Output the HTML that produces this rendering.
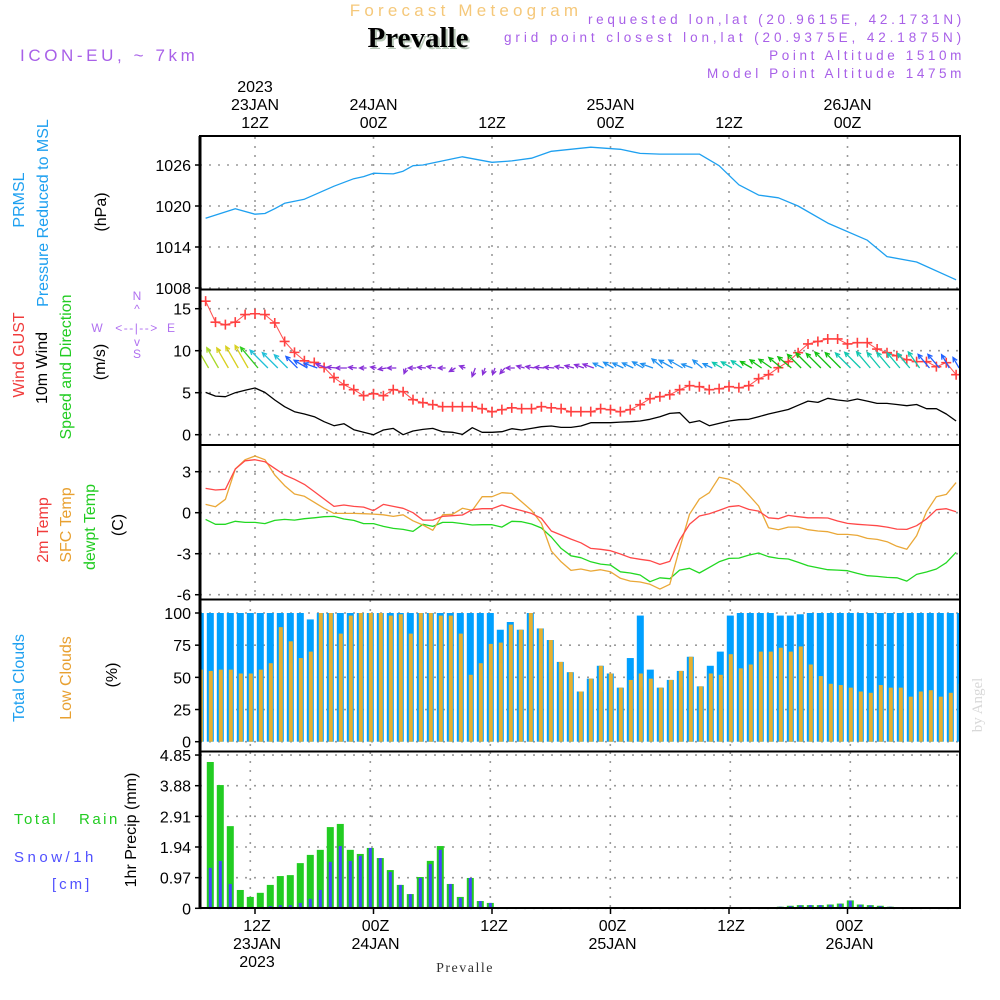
<!DOCTYPE html>
<html><head><meta charset="utf-8"><title>Forecast Meteogram - Prevalle</title>
<style>
html,body{margin:0;padding:0;background:#fff;}
svg{display:block;font-family:"Liberation Sans",sans-serif;}
.n{font-family:"Liberation Sans Narrow","Liberation Sans",sans-serif;}
</style></head>
<body>
<svg id="chart" xmlns="http://www.w3.org/2000/svg" width="1000" height="1000" viewBox="0 0 1000 1000">
<rect x="0" y="0" width="1000" height="1000" fill="#fff"/>
<text x="466" y="16" text-anchor="middle" font-size="17" fill="#f5c87a" letter-spacing="4.2">Forecast Meteogram</text>
<text x="420" y="49" text-anchor="middle" font-size="29" font-weight="bold" fill="#b8c8b8" font-family="Liberation Serif,serif">Prevalle</text>
<text x="418" y="47" text-anchor="middle" font-size="29" font-weight="bold" fill="#000" font-family="Liberation Serif,serif">Prevalle</text>
<text x="20" y="61" font-size="17" fill="#a860e8" letter-spacing="3.6">ICON-EU, ~ 7km</text>
<text x="965" y="24" text-anchor="end" font-size="13.5" fill="#a860e8" letter-spacing="3.7">requested lon,lat (20.9615E, 42.1731N)</text>
<text x="965" y="42" text-anchor="end" font-size="13.5" fill="#a860e8" letter-spacing="3.9">grid point closest lon,lat (20.9375E, 42.1875N)</text>
<text x="965" y="60" text-anchor="end" font-size="13.5" fill="#a860e8" letter-spacing="3.6">Point Altitude 1510m</text>
<text x="965" y="78" text-anchor="end" font-size="13.5" fill="#a860e8" letter-spacing="3.6">Model Point Altitude 1475m</text>

<g font-size="16" class="n">
<text transform="translate(24,200) rotate(-90)" text-anchor="middle" fill="#1ea0f0">PRMSL</text>
<text transform="translate(48,213) rotate(-90)" text-anchor="middle" fill="#1ea0f0">Pressure Reduced to MSL</text>
<text transform="translate(106,212) rotate(-90)" text-anchor="middle" fill="#000">(hPa)</text>
<text transform="translate(24,355) rotate(-90)" text-anchor="middle" fill="#f03c3c">Wind GUST</text>
<text transform="translate(47,368) rotate(-90)" text-anchor="middle" fill="#000">10m Wind</text>
<text transform="translate(71,367) rotate(-90)" text-anchor="middle" fill="#22cc22">Speed and Direction</text>
<text transform="translate(105,362) rotate(-90)" text-anchor="middle" fill="#000">(m/s)</text>
<text transform="translate(48,530) rotate(-90)" text-anchor="middle" fill="#f03c3c">2m Temp</text>
<text transform="translate(71,525) rotate(-90)" text-anchor="middle" fill="#e8a030">SFC Temp</text>
<text transform="translate(95,527) rotate(-90)" text-anchor="middle" fill="#22cc22">dewpt Temp</text>
<text transform="translate(123,525) rotate(-90)" text-anchor="middle" fill="#000">(C)</text>
<text transform="translate(24,678) rotate(-90)" text-anchor="middle" fill="#1ea0f0">Total Clouds</text>
<text transform="translate(71,678) rotate(-90)" text-anchor="middle" fill="#e8a030">Low Clouds</text>
<text transform="translate(117,675) rotate(-90)" text-anchor="middle" fill="#000">(%)</text>
<text transform="translate(136,830) rotate(-90)" text-anchor="middle" fill="#000">1hr Precip (mm)</text>
</g>
<text x="14" y="824" font-size="15" fill="#22cc22" letter-spacing="2.5">Total</text>
<text x="79" y="824" font-size="15" fill="#22cc22" letter-spacing="2.5">Rain</text>
<text x="14" y="862" font-size="15" fill="#5050ff" letter-spacing="3.5">Snow/1h</text>
<text x="52" y="889" font-size="15" fill="#5050ff" letter-spacing="3">[cm]</text>
<g fill="#b070f0" font-size="12" text-anchor="middle">
<text x="137" y="300">N</text>
<text x="137" y="313">^</text>
<text x="97" y="332">W</text>
<text x="137" y="332" letter-spacing="1.5">&lt;--|--&gt;</text>
<text x="171" y="332">E</text>
<text x="137" y="346">v</text>
<text x="137" y="358">S</text>
</g>
<text transform="translate(982,705) rotate(-90)" text-anchor="middle" font-size="15" fill="#d8d8d8" font-family="Liberation Serif,serif">by Angel</text>

<g id="grid"></g>
<g id="marks"></g>
<g id="frame"></g>
<g id="labels" font-size="16" class="n"></g>
</svg>
<script>
// ---- data ----
var lineHours = [];
for (var hh = 7; hh <= 83; hh++) lineHours.push(hh);
var pressureHours = [7,10,12,13,14,15,17,20,22,23,24,26,27,28,29,31,33,36,38,40,42,46,49,51,53,57,59,61,63,65,67,70,74,76,79,83];
var pressureVals = [1018.2,1019.6,1018.8,1018.9,1019.6,1020.4,1021.0,1022.9,1024.0,1024.3,1024.8,1024.7,1025.1,1025.9,1026.0,1026.6,1027.2,1026.4,1026.6,1027.0,1028.0,1028.6,1028.3,1027.7,1027.6,1027.6,1025.9,1023.1,1021.6,1021.2,1020.0,1017.5,1015.0,1012.6,1011.8,1009.2];
var gustVals = [15.9,13.4,13.1,13.4,14.3,14.4,14.3,13.3,11.1,9.8,8.8,8.6,8.0,6.8,5.95,5.36,4.64,4.88,4.64,5.36,5.12,4.17,3.81,3.57,3.33,3.33,3.33,3.33,3.1,2.74,2.98,3.2,3.1,3.1,3.33,3.2,3.1,2.74,2.74,
 2.74,3.1,2.98,2.74,2.98,3.57,4.29,4.52,4.76,5.36,5.83,5.71,5.36,5.48,5.71,5.6,5.83,6.67,7.14,7.98,8.7,9.76,10.8,11.1,11.4,11.4,10.8,10.95,10.95,10.2,9.76,9.4,8.93,8.7,8.7,8.1,8.57,7.14];
var windVals = [5.04,4.6,4.52,5.0,5.3,5.56,5.04,4.13,3.33,2.74,2.46,2.14,1.55,1.07,1.31,0.6,0.28,0,0.56,0.75,0,0.44,0.63,0.75,0.36,0.28,0.04,0.83,0.28,0.28,0.36,0.71,0.56,0.75,0.95,1.03,0.87,0.87,1.03,
 1.43,1.43,1.43,1.5,1.55,1.63,1.83,2.14,2.54,2.62,1.43,1.67,1.07,1.35,1.63,1.79,1.83,2.14,2.46,2.74,3.0,3.5,4.0,3.85,4.33,4.13,4.0,4.25,4.0,3.73,3.73,3.6,3.45,3.6,3.1,3.1,2.46,1.63];
var windDirVals = [330,330,330,330,330,320,315,315,315,315,300,290,290,275,270,275,270,280,260,270,200,270,275,280,270,240,290,200,200,200,220,270,285,280,275,275,280,285,290,
 290,295,300,295,295,300,290,310,300,300,290,310,295,300,300,305,300,305,305,310,310,315,315,315,315,315,315,315,320,320,320,320,320,325,320,320,330,330];
var temp2mVals = [1.78,1.66,1.71,3.2,3.8,3.88,3.73,3.24,2.76,2.44,2.07,1.54,1.0,0.46,0.56,0.46,0.41,0.15,0.61,0.46,0.32,0,-0.54,-0.54,-0.27,-0.22,-0.17,0.22,0.29,0.29,0.56,0.34,0.15,-0.05,-0.41,-1.34,-1.63,-1.93,-2.2,
 -2.61,-2.68,-2.78,-3.02,-3.29,-3.41,-3.51,-3.78,-3.56,-2.0,-0.85,-0.24,-0.07,0.17,0.44,0.51,0.24,0.12,-0.37,-0.44,-0.2,-0.29,-0.37,-0.37,-0.39,-0.61,-0.78,-0.85,-0.9,-0.95,-1.05,-1.2,-1.22,-0.95,-0.46,0.22,0.29,0.07];
var tempSfcVals = [0.61,0.44,0.98,3.2,3.88,4.15,3.88,2.76,1.98,1.37,1.2,0.76,0.32,-0.05,-0.05,-0.05,-0.07,-0.1,-0.15,-0.27,-0.15,-0.59,-0.9,-1.29,-0.15,-0.12,0.32,0.17,1.17,1.17,1.46,1.41,0.8,0.17,-0.78,-2.8,-3.59,-4.22,-4.12,
 -4.27,-4.17,-4.32,-4.8,-5.0,-5.07,-5.24,-5.59,-5.24,-2.61,-0.12,1.0,1.46,2.59,2.44,2.07,1.29,0.49,-1.1,-1.24,-1.05,-1.05,-1.24,-1.34,-1.39,-1.59,-1.59,-1.66,-1.88,-1.95,-2.12,-2.46,-2.68,-1.68,0.07,1.17,1.34,2.2];
var dewptVals = [-0.49,-0.85,-0.85,-0.63,-0.71,-0.71,-0.8,-0.56,-0.49,-0.54,-0.44,-0.37,-0.29,-0.27,-0.46,-0.56,-0.8,-0.8,-1.0,-1.15,-1.22,-1.37,-0.85,-1.0,-0.71,-0.71,-0.8,-0.9,-0.88,-0.88,-1.05,-0.63,-0.66,-0.83,-1.12,-1.78,-2.61,-3.15,-3.29,
 -3.59,-3.76,-3.83,-4.32,-4.41,-4.56,-5.05,-4.76,-4.83,-4.2,-4.07,-4.41,-4.0,-3.59,-3.34,-3.32,-3.1,-2.95,-3.22,-3.34,-3.39,-3.63,-3.88,-4.02,-4.17,-4.2,-4.24,-4.44,-4.61,-4.66,-4.73,-4.76,-5.0,-4.51,-4.34,-4.12,-3.66,-2.9];
var totalCloudVals = [100,100,100,100,100,100,100,100,100,100,100,95,100,100,100,100,100,100,100,100,100,100,100,100,100,100,100,100,100,100,
 87,93,87,100,88,79,62,54,39,49,59,53,42,65,98,56,42,48,55,66,43,59,70,98,100,100,100,100,98,98,99,100,100,100,100,100,100,100,100,100,100,100,100,100,100,100,100];
var lowCloudVals = [56,55,56,56,53,53,56,61,89,78,65,70,100,100,84,98,100,100,100,98,99,84,100,100,98,98,84,52,61,76,
 77,91,87,100,88,79,62,54,39,49,59,53,42,48,53,49,42,48,55,66,43,53,52,68,57,60,70,70,73,70,74,60,51,45,44,42,39,38,44,42,42,35,39,40,35,38,45];
var rainVals = [0,4.63,3.90,2.60,0.58,0.36,0.49,0.74,1.02,1.05,1.43,1.69,1.85,2.57,2.67,1.85,1.72,1.91,1.59,1.21,0.74,0.45,0.99,1.50,1.97,0.77,0.36,0.96,0.23,0.17,0.04,
 0,0,0,0,0,0,0,0,0,0,0,0,0,0,0,0,0,0,0,0,0,0,0,0,0,0,
 0.03,0.05,0.08,0.1,0.1,0.1,0.12,0.15,0.25,0.12,0.1,0.08,0.05,0.03,0.03,0,0,0,0,0];
var snowVals = [0,1.28,1.50,0.77,0.04,0,0.04,0.07,0.1,0.1,0.17,0.3,0.58,1.47,1.97,1.50,1.66,1.91,1.59,1.15,0.74,0.45,0.96,1.40,1.85,0.77,0.33,0.96,0.23,0.17,0.04,
 0,0,0,0,0,0,0,0,0,0,0,0,0,0,0,0,0,0,0,0,0,0,0,0,0,0,
 0.03,0.05,0.07,0.09,0.1,0.1,0.11,0.14,0.24,0.11,0.09,0.07,0.05,0.03,0.03,0,0,0,0,0];
var pressureTicks = [1008,1014,1020,1026];
var windTicks = [0,5,10,15];
var tempTicks = [-6,-3,0,3];
var cloudTicks = [0,25,50,75,100];
var precipTicks = ["0","0.97","1.94","2.91","3.88","4.85"];
var timeTickHours = [12,24,36,48,60,72];
var timeTickHour = ["12Z","00Z","12Z","00Z","12Z","00Z"];
var timeTickDate = ["23JAN","24JAN","","25JAN","","26JAN"];

// ---- scales ----
var NS = "http://www.w3.org/2000/svg";
function xL(h){ return 255 + (h - 12) * 9.875; }
function xB(h){ return 200.3 + (h - 7) * 10; }
function yP(p){ return 288 - (p - 1008) * 6.833; }
function yW(v){ return 434.7 - v * 8.4; }
function yT(t){ return 512.7 - t * 13.67; }
function yC(c){ return 741.7 - c * 1.287; }
function yR(r){ return 908.3 - r * 31.6; }
var panels = [[137,289],[290,445],[446,599],[600,751],[752,908]];

function mk(tag, attrs, parent){
  var e = document.createElementNS(NS, tag);
  for (var k in attrs) e.setAttribute(k, attrs[k]);
  parent.appendChild(e);
  return e;
}
var grid = document.getElementById('grid');
var marks = document.getElementById('marks');
var frame = document.getElementById('frame');
var labels = document.getElementById('labels');

var defs = mk('defs', {}, document.getElementById('chart'));
var cp = mk('clipPath', {id:'plotclip'}, defs);
mk('rect', {x:200, y:136, width:760, height:772}, cp);
marks.setAttribute('clip-path', 'url(#plotclip)');

function hgrid(y){
  var l = mk('line', {x1:200, x2:960, y1:y, y2:y, stroke:'#9a9a9a', 'stroke-width':1.6, 'stroke-dasharray':'2 7'}, grid);
  
  
}
function vgrid(x, y1, y2){
  var l = mk('line', {x1:x, x2:x, y1:y1, y2:y2, stroke:'#9a9a9a', 'stroke-width':1.6, 'stroke-dasharray':'2 7'}, grid);
  
  
}
pressureTicks.forEach(function(v){ hgrid(yP(v)); });
windTicks.forEach(function(v){ hgrid(yW(v)); });
tempTicks.forEach(function(v){ hgrid(yT(v)); });
cloudTicks.forEach(function(v){ hgrid(yC(v)); });
precipTicks.forEach(function(v){ hgrid(yR(parseFloat(v))); });
timeTickHours.forEach(function(h){
  vgrid(xL(h), panels[0][0], panels[0][1]);
  vgrid(xL(h), panels[1][0], panels[1][1]);
  vgrid(xL(h), panels[2][0], panels[2][1]);
  vgrid(xB(h), panels[3][0], panels[3][1]);
  vgrid(xB(h), panels[4][0], panels[4][1]);
});

function polyline(hours, vals, xf, yf, color, name, w){
  var pts = hours.map(function(h, i){ return xf(h).toFixed(1) + ',' + yf(vals[i]).toFixed(1); }).join(' ');
  var p = mk('polyline', {points:pts, fill:'none', stroke:color, 'stroke-width':w || 1.3, 'stroke-linejoin':'round'}, marks);
  
  
}

polyline(pressureHours, pressureVals, xL, yP, '#1ea0f0', 'pressure-line', 1.3);

lineHours.forEach(function(h, i){
  var x = xB(h);
  var b = mk('rect', {x:x-3.5, y:yC(totalCloudVals[i]), width:7, height:yC(0)-yC(totalCloudVals[i]), fill:'#00a0ff'}, marks);
  
  
  var o = mk('rect', {x:x-1.5, y:yC(lowCloudVals[i]), width:4, height:yC(0)-yC(lowCloudVals[i]), fill:'#e8b030'}, marks);
  
  
});

lineHours.forEach(function(h, i){
  var x = xB(h);
  if (rainVals[i] > 0){
    var g = mk('rect', {x:x-3.5, y:yR(rainVals[i]), width:7, height:yR(0)-yR(rainVals[i]), fill:'#22cc22'}, marks);
    
    
  }
  if (snowVals[i] > 0){
    var s = mk('rect', {x:x-1.5, y:yR(snowVals[i]), width:3, height:yR(0)-yR(snowVals[i]), fill:'#4444ff'}, marks);
    
    
  }
});

polyline(lineHours, windVals, xL, yW, '#000', 'wind-speed-line', 1.3);
polyline(lineHours, gustVals, xL, yW, '#ff5050', 'wind-gust-line', 1);
lineHours.forEach(function(h, i){
  var x = xL(h), y = yW(gustVals[i]);
  var g = mk('path', {d:'M'+(x-5)+' '+y+'H'+(x+5)+'M'+x+' '+(y-5)+'V'+(y+5), stroke:'#ff4040', 'stroke-width':1.6, fill:'none'}, marks);
  
  
});
function arrowColor(h){
  if (h <= 8) return '#a8d828';
  if (h <= 11) return '#d8d020';
  if (h <= 12) return '#30cc20';
  if (h <= 15) return '#20c0d8';
  if (h <= 18) return '#2060ff';
  if (h <= 46) return '#8830d8';
  if (h <= 58) return '#2090f0';
  if (h <= 61) return '#10c8b0';
  if (h <= 71) return '#10c010';
  if (h <= 79) return '#10c8b0';
  return '#2060ff';
}
lineHours.forEach(function(h, i){
  var len = 6 + windVals[i] * 3.8;
  var a = windDirVals[i] * Math.PI / 180;
  var x0 = xL(h) + 3, y0 = 368;
  var x1 = x0 + Math.sin(a) * len, y1 = y0 - Math.cos(a) * len;
  var hl = 5, ha = 0.45;
  var back = Math.atan2(y0 - y1, x0 - x1);
  var d = 'M'+x0.toFixed(1)+' '+y0+'L'+x1.toFixed(1)+' '+y1.toFixed(1)+
    'M'+(x1+Math.cos(back+ha)*hl).toFixed(1)+' '+(y1+Math.sin(back+ha)*hl).toFixed(1)+'L'+x1.toFixed(1)+' '+y1.toFixed(1)+
    'L'+(x1+Math.cos(back-ha)*hl).toFixed(1)+' '+(y1+Math.sin(back-ha)*hl).toFixed(1);
  var p = mk('path', {d:d, stroke:arrowColor(h), 'stroke-width':1.3, fill:'none'}, marks);
  
  
});

polyline(lineHours, dewptVals, xL, yT, '#22d822', 'dewpoint-line', 1.3);
polyline(lineHours, tempSfcVals, xL, yT, '#eaa838', 'sfc-temp-line', 1.3);
polyline(lineHours, temp2mVals, xL, yT, '#ff4848', 'temp-2m-line', 1.3);

mk('rect', {x:200, y:136, width:760, height:772, fill:'none', stroke:'#000', 'stroke-width':2}, frame);
[289.5, 445, 599.5, 751.5].forEach(function(y){
  var l = mk('line', {x1:200, x2:960, y1:y, y2:y, stroke:'#000', 'stroke-width':2}, frame);
  
  
});
mk('line', {x1:200, x2:200, y1:136, y2:908, stroke:'#000', 'stroke-width':3}, frame);

function ylabel(txt, y, name){
  var t = mk('text', {x:191, y:y+6, 'text-anchor':'end', fill:'#000'}, labels);
  t.textContent = txt;
  
  
  mk('line', {x1:195, x2:201, y1:y, y2:y, stroke:'#000', 'stroke-width':1.5}, frame);
}
pressureTicks.forEach(function(v){ ylabel(String(v), yP(v), 'pressure-tick-label'); });
windTicks.forEach(function(v){ ylabel(String(v), yW(v), 'wind-tick-label'); });
tempTicks.forEach(function(v){ ylabel(String(v), yT(v), 'temp-tick-label'); });
cloudTicks.forEach(function(v){ ylabel(String(v), yC(v), 'cloud-tick-label'); });
precipTicks.forEach(function(v){ ylabel(v, yR(parseFloat(v)), 'precip-tick-label'); });

function tlabel(txt, x, y, name){
  var t = mk('text', {x:x, y:y, 'text-anchor':'middle', fill:'#000'}, labels);
  t.textContent = txt;
  
  
}
timeTickHours.forEach(function(h, i){
  var x = xL(h);
  tlabel(timeTickHour[i], x, 128, 'top-time-label');
  if (timeTickDate[i]) tlabel(timeTickDate[i], x, 110, 'top-date-label');
  tlabel(timeTickHour[i], x + 2, 931, 'bottom-time-label');
  if (timeTickDate[i]) tlabel(timeTickDate[i], x + 2, 949, 'bottom-date-label');
  mk('line', {x1:x, x2:x, y1:908, y2:914, stroke:'#000', 'stroke-width':1.5}, frame);
});
tlabel('2023', xL(12), 92, 'top-year-label');
tlabel('2023', xL(12) + 2, 967, 'bottom-year-label');
var bt = mk('text', {x:465, y:972, 'text-anchor':'middle', fill:'#333', 'font-size':14, 'font-family':'Liberation Serif,serif', 'letter-spacing':'1.5'}, labels);
bt.textContent = 'Prevalle';


</script>
</body></html>
